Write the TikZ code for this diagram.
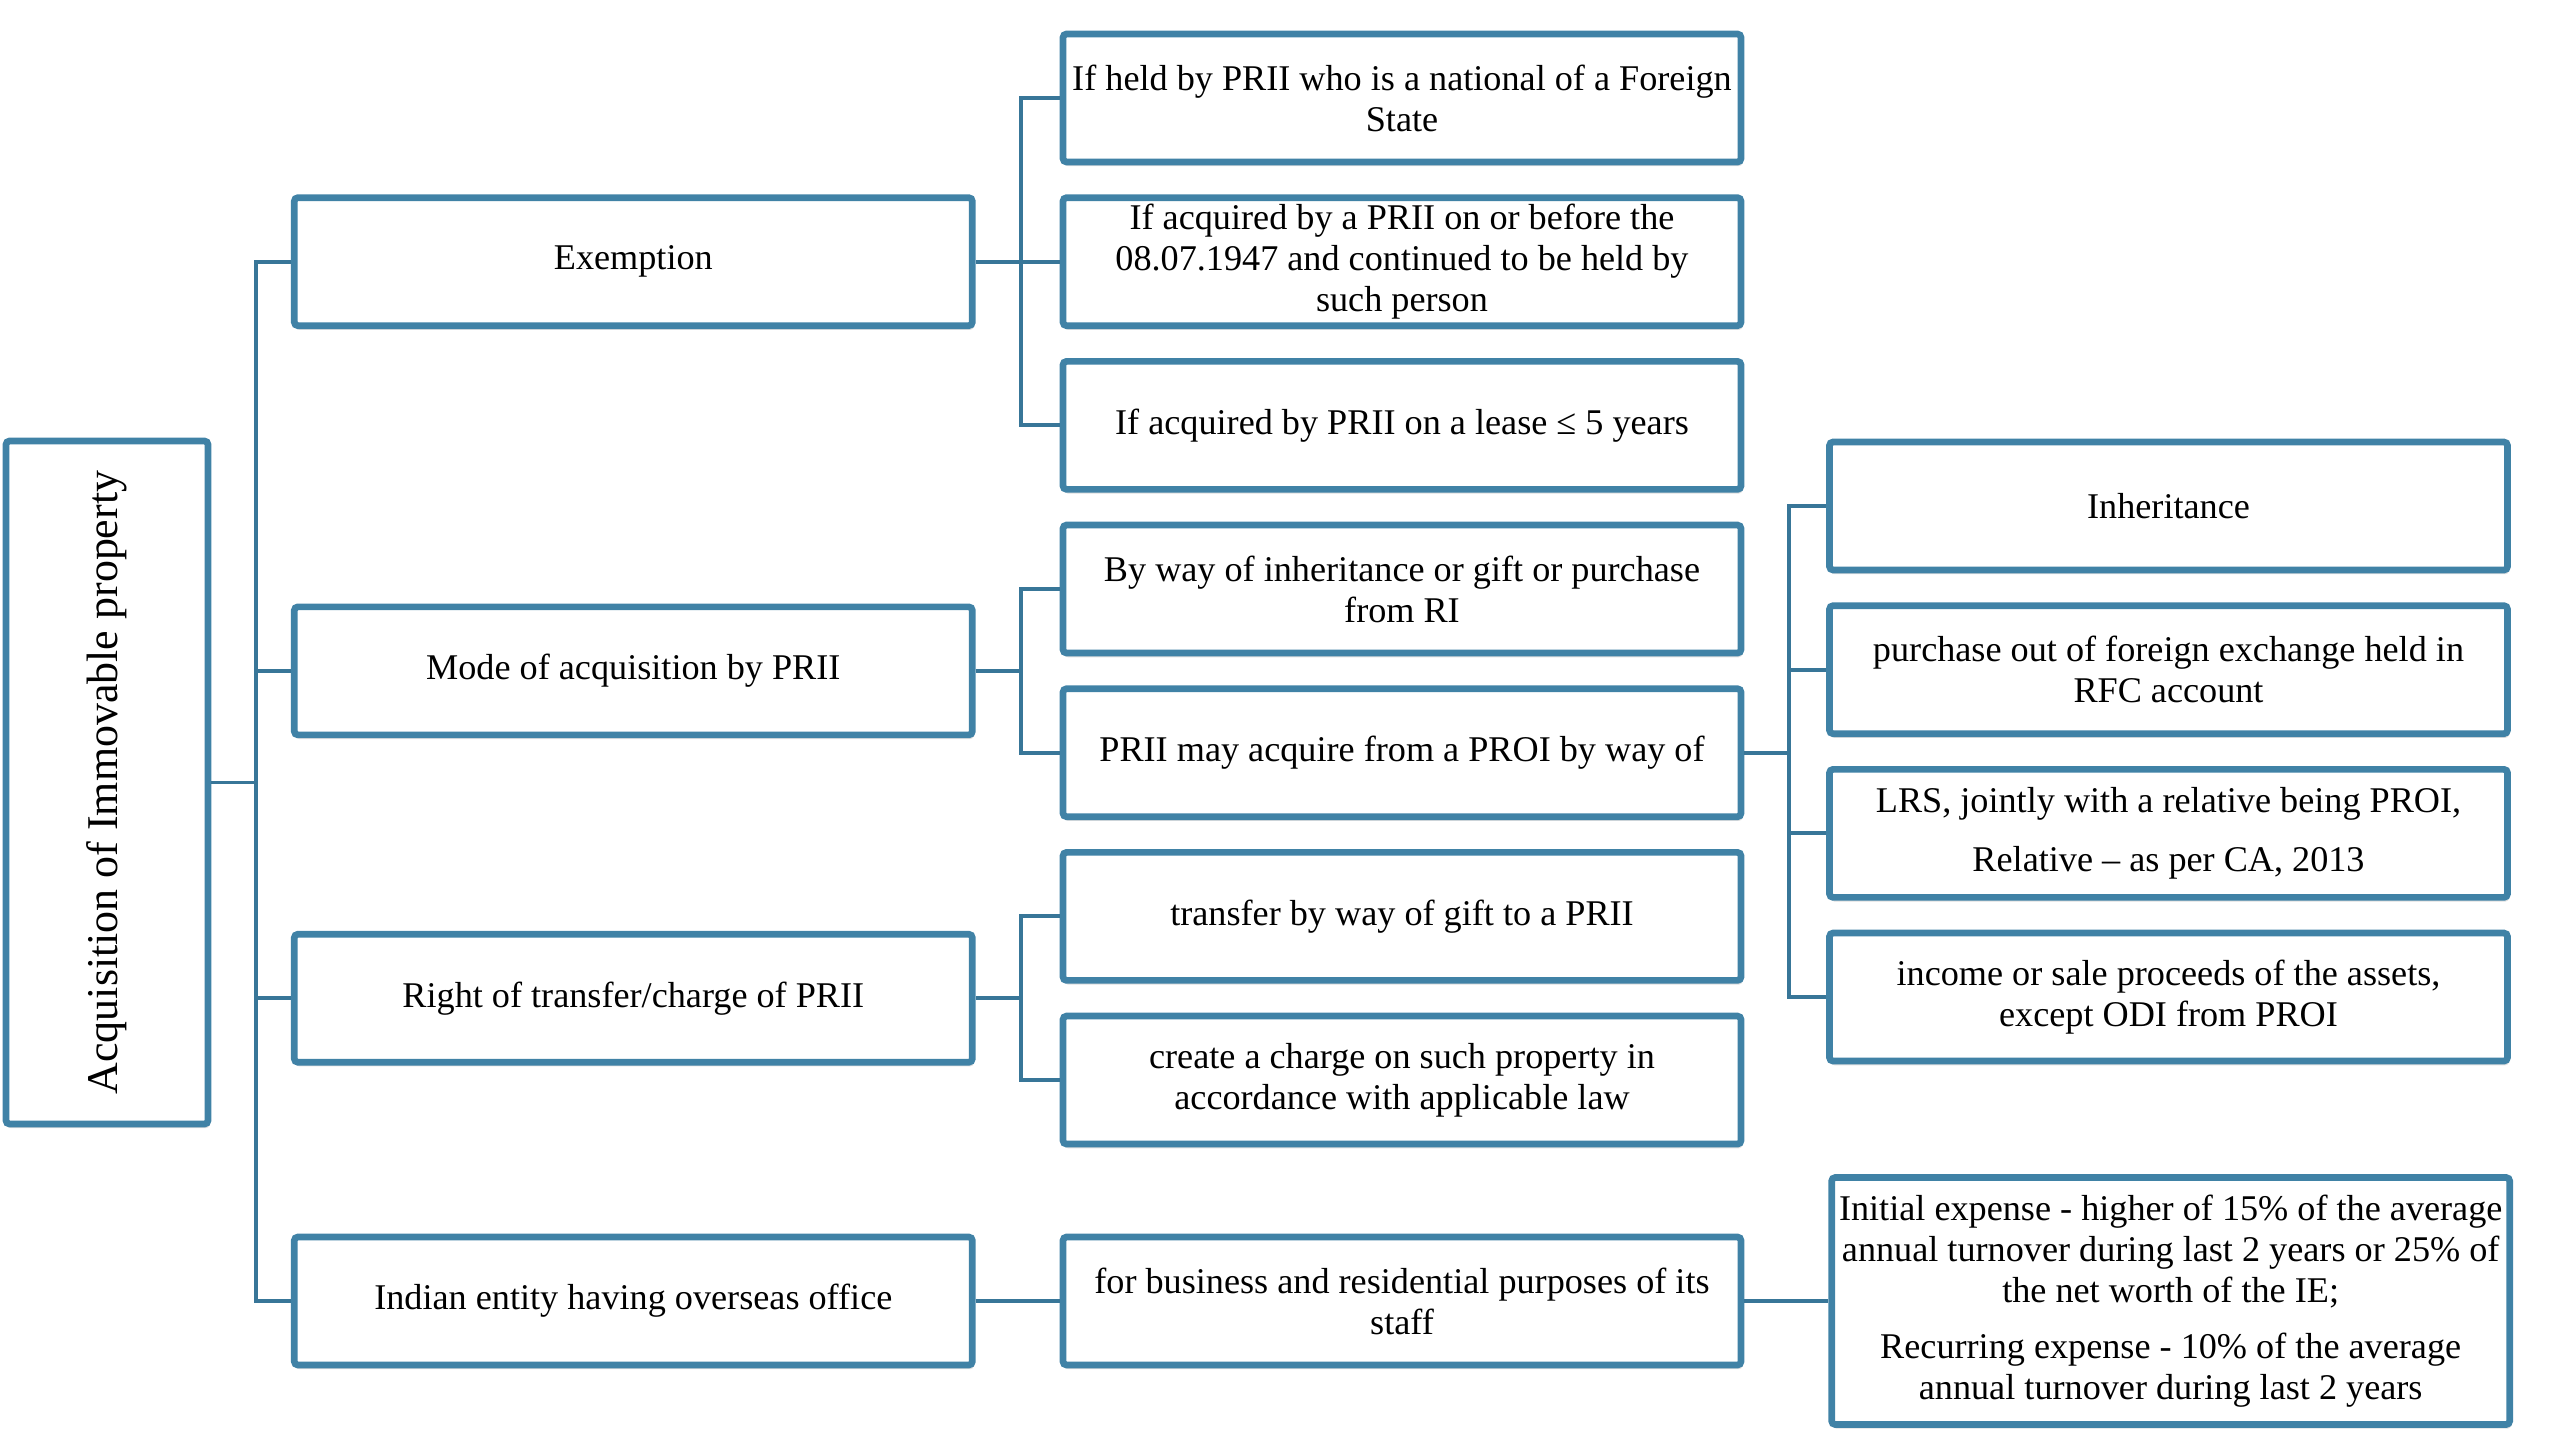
\documentclass[tikz,border=0pt]{standalone}
\usepackage{fontspec}
\setmainfont{Liberation Serif}
\usetikzlibrary{positioning,calc,shadows}
\definecolor{boxblue}{RGB}{64,130,166}
\definecolor{linkblue}{RGB}{56,118,152}

\begin{document}
\begin{tikzpicture}[
  node distance=0.29cm and 0.84cm,
  box/.style={draw=boxblue,line width=1.9pt,rounded corners=1pt,fill=white,align=center,
    minimum width=6.78cm,minimum height=1.28cm,inner sep=1pt,font=\fontsize{10.3}{11.7}\selectfont,
    drop shadow={opacity=0.25,shadow xshift=0.4pt,shadow yshift=-1.2pt}},
  link/.style={draw=linkblue,line width=1.1pt}
]
\useasboundingbox (0,0) rectangle (25.6,-14.4);
% root
\node[box,minimum width=2.02cm,minimum height=6.83cm,font=\fontsize{12.5}{14}\selectfont] (root) at (1.07,-7.825)
  {\rotatebox{90}{Acquisition of Immovable property}};
% second column
\node[box] (a1) at (14.02,-0.98) {If held by PRII who is a national of a Foreign\\State};
\node[box,below=of a1] (a2) {If acquired by a PRII on or before the\\08.07.1947 and continued to be held by\\such person};
\node[box,below=of a2] (a3) {If acquired by PRII on a lease ≤ 5 years};
\node[box,below=of a3] (b1) {By way of inheritance or gift or purchase\\from RI};
\node[box,below=of b1] (b2) {PRII may acquire from a PROI by way of};
\node[box,below=of b2] (c1) {transfer by way of gift to a PRII};
\node[box,below=of c1] (c2) {create a charge on such property in\\accordance with applicable law};
\node[box] (d1) at (14.02,-13.01) {for business and residential purposes of its\\staff};
% first column
\node[box,left=of a2] (exem) {Exemption};
\node[box,left=0.84cm of $(b1.west)!0.5!(b2.west)$] (mode) {Mode of acquisition by PRII};
\node[box,left=0.84cm of $(c1.west)!0.5!(c2.west)$] (trans) {Right of transfer/charge of PRII};
\node[box,left=of d1] (ind) {Indian entity having overseas office};
% third column
\node[box] (e1) at (21.685,-5.06) {Inheritance};
\node[box,below=of e1] (e2) {purchase out of foreign exchange held in\\RFC account};
\node[box,below=of e2] (e3) {LRS, jointly with a relative being PROI,\\[5pt]Relative – as per CA, 2013};
\node[box,below=of e3] (e4) {income or sale proceeds of the assets,\\except ODI from PROI};
\node[box,right=of d1,minimum height=2.47cm] (f1) {Initial expense - higher of 15\% of the average\\annual turnover during last 2 years or 25\% of\\the net worth of the IE;\\[4pt]Recurring expense - 10\% of the average\\annual turnover during last 2 years};
% connectors
\draw[link] (root.east) -- ++(0.45,0) coordinate (t0);
\foreach \n in {exem,mode,trans,ind}
  \draw[link] (t0) |- (\n.west);
\draw[link] (exem.east) -- ++(0.45,0) coordinate (t1);
\foreach \n in {a1,a2,a3}
  \draw[link] (t1) |- (\n.west);
\draw[link] (mode.east) -- ++(0.45,0) coordinate (t2);
\foreach \n in {b1,b2}
  \draw[link] (t2) |- (\n.west);
\draw[link] (trans.east) -- ++(0.45,0) coordinate (t3);
\foreach \n in {c1,c2}
  \draw[link] (t3) |- (\n.west);
\draw[link] (b2.east) -- ++(0.45,0) coordinate (t4);
\foreach \n in {e1,e2,e3,e4}
  \draw[link] (t4) |- (\n.west);
\draw[link] (ind) -- (d1);
\draw[link] (d1) -- (f1);
\end{tikzpicture}
\end{document}
